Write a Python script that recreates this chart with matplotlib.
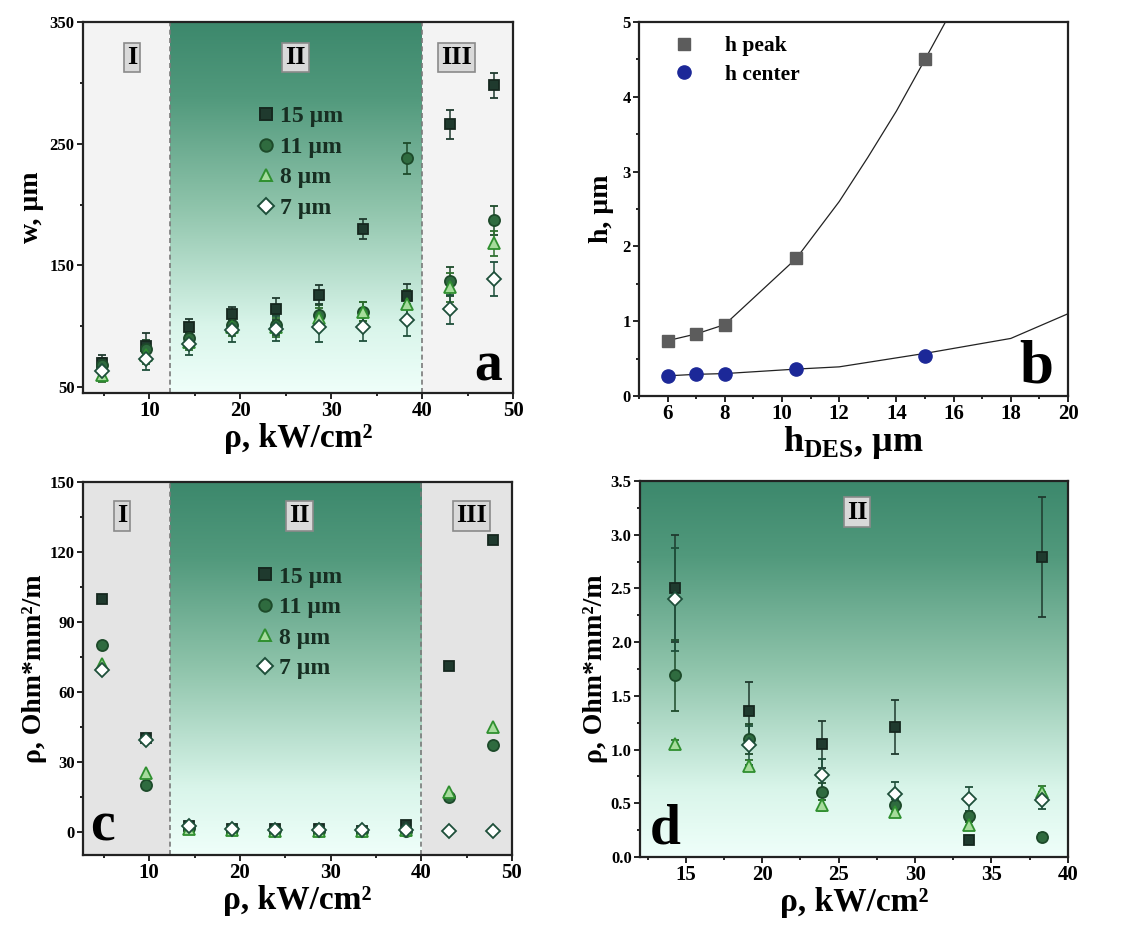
import numpy as np
import matplotlib
matplotlib.use('Agg')
import matplotlib.pyplot as plt
from matplotlib.colors import LinearSegmentedColormap
from matplotlib.lines import Line2D
from matplotlib.ticker import MultipleLocator, FixedLocator

plt.rcParams['font.family'] = ['Liberation Serif', 'DejaVu Serif']
plt.rcParams['font.weight'] = 'bold'
plt.rcParams['axes.labelweight'] = 'bold'
plt.rcParams['mathtext.fontset'] = 'custom'
plt.rcParams['mathtext.rm'] = 'Liberation Serif:bold'
plt.rcParams['mathtext.bf'] = 'Liberation Serif:bold'

# ---- data ----
p = [4.8, 9.6, 14.4, 19.1, 23.9, 28.7, 33.5, 38.3, 43.1, 47.9]
labels = ['15 µm', '11 µm', '8 µm', '7 µm']

# panel a: width w, um
w15 = [70, 84, 99, 110, 114, 126, 180, 125, 266, 298]
w11 = [68, 81, 90, 101, 101, 109, 112, 238, 137, 187]
w8 = [60, 76, 87, 99, 99, 107, 112, 118, 132, 168]
w7 = [63, 73, 85, 97, 98, 99, 99, 105, 114, 139]
w15_err = [6, 10, 7, 6, 9, 8, 8, 10, 12, 10]
w11_err = [6, 8, 7, 7, 8, 8, 8, 13, 12, 12]
w8_err = [6, 7, 7, 7, 8, 8, 8, 12, 12, 10]
w7_err = [8, 9, 9, 10, 10, 12, 11, 13, 12, 14]

# panel b
h_des = [6, 7, 8, 10.5, 15]
h_peak = [0.74, 0.83, 0.955, 1.84, 4.5]
h_center = [0.27, 0.29, 0.30, 0.36, 0.53]
peak_curve_x = [6, 7, 8, 10.5, 12, 13, 14, 15, 16, 18, 20]
peak_curve_y = [0.74, 0.83, 0.955, 1.84, 2.6, 3.19, 3.81, 4.5, 5.2, 6.6, 8.0]
center_curve_x = [6, 7, 8, 10.5, 12, 15, 18, 20]
center_curve_y = [0.27, 0.29, 0.30, 0.36, 0.39, 0.57, 0.77, 1.1]

# panel c: resistivity, Ohm*mm2/m
r15 = [100, 40, 2.5, 1.36, 1.05, 1.21, 0.16, 2.79, 71, 125]
r11 = [80, 20, 1.69, 1.10, 0.61, 0.48, 0.38, 0.19, 15, 37]
r8 = [72, 25, 1.05, 0.85, 0.48, 0.42, 0.30, 0.61, 17, 45]
r7 = [69.5, 39.5, 2.40, 1.04, 0.76, 0.59, 0.54, 0.53, 0.3, 0.3]

# panel d: region II zoom with errors
pd_ = [14.3, 19.1, 23.9, 28.7, 33.5, 38.3]
d15 = [2.50, 1.36, 1.05, 1.21, 0.16, 2.79]
d11 = [1.69, 1.10, 0.61, 0.48, 0.38, 0.19]
d8 = [1.05, 0.85, 0.48, 0.42, 0.30, 0.61]
d7 = [2.40, 1.04, 0.76, 0.59, 0.54, 0.53]
d15_err = [0.50, 0.27, 0.22, 0.25, 0.03, 0.56]
d11_err = [0.33, 0.14, 0.08, 0.06, 0.05, 0.03]
d8_err = [0.04, 0.05, 0.05, 0.04, 0.04, 0.05]
d7_err = [0.48, 0.18, 0.15, 0.11, 0.11, 0.08]

# ---- styles ----
styles = [
    dict(marker='s', mfc='#1f3a2e', mec='#16281f', color='#1f3a2e'),
    dict(marker='o', mfc='#2f6b3f', mec='#1d4a2a', color='#1d4a2a'),
    dict(marker='^', mfc='#a6dc9c', mec='#2f8f2f', color='#2f6f2f'),
    dict(marker='D', mfc='white', mec='#1e4f3a', color='#1e4f3a'),
]
msizes = [7.5, 8, 8, 7]

cmap = LinearSegmentedColormap.from_list(
    'reg2', [(0.0, '#effffa'), (0.18, '#d9f5ea'), (0.5, '#8fc4ab'),
             (0.8, '#51997c'), (1.0, '#3c886c')])
grad = np.linspace(0, 1, 256).reshape(-1, 1)

fig = plt.figure(figsize=(11.26, 9.34), dpi=100)
ax_a = fig.add_axes([0.0737, 0.5792, 0.382, 0.397])
ax_b = fig.add_axes([0.5675, 0.5760, 0.381, 0.4004])
ax_c = fig.add_axes([0.0737, 0.0846, 0.381, 0.3993])
ax_d = fig.add_axes([0.5684, 0.0824, 0.380, 0.4026])

box = dict(boxstyle='square,pad=0.12', fc='#d9d9d9', ec='#8a8a8a', lw=1.2)


def style_axes(ax):
    for s in ax.spines.values():
        s.set_linewidth(1.6)
        s.set_color('#222222')
    ax.tick_params(which='both', direction='out', top=False, right=False,
                   width=1.2)
    ax.tick_params(axis='x', labelsize=15, pad=2)
    ax.tick_params(axis='y', labelsize=12, pad=2)
    ax.tick_params(which='major', length=4)
    ax.tick_params(which='minor', length=2.5)


def regions(ax, ylo, yhi, side_color):
    ax.axvspan(2.7, 12.3, color=side_color, zorder=0, lw=0)
    ax.axvspan(40, 50, color=side_color, zorder=0, lw=0)
    ax.imshow(grad, cmap=cmap, origin='lower', aspect='auto',
              extent=[12.3, 40, ylo, yhi], zorder=0.5)
    for xv in (12.3, 40):
        ax.axvline(xv, color='#7a7a7a', ls=(0, (3, 2)), lw=1.2, zorder=1)


def series_legend(ax, anchor):
    hs = [Line2D([], [], ls='none', marker=st['marker'], mfc=st['mfc'],
                 mec=st['mec'], ms=ms + 1, mew=1.4)
          for st, ms in zip(styles, msizes)]
    leg = ax.legend(hs, labels, loc='upper left', bbox_to_anchor=anchor,
                    frameon=False, fontsize=17, handletextpad=0.0,
                    labelspacing=0.38, handlelength=1.2, borderaxespad=0)
    for t in leg.get_texts():
        t.set_color('#172e22')


# ---- panel a ----
ax = ax_a
regions(ax, 45, 350, '#f3f3f3')
for ys, es, st, ms in zip([w15, w11, w8, w7], [w15_err, w11_err, w8_err, w7_err],
                          styles, msizes):
    ax.errorbar(p, ys, yerr=es, ls='none', marker=st['marker'], mfc=st['mfc'],
                mec=st['mec'], ecolor=st['color'], ms=ms, mew=1.3,
                capsize=3, elinewidth=1.1, capthick=1.1, zorder=3)
ax.set_xlim(2.7, 50)
ax.set_ylim(45, 350)
ax.xaxis.set_major_locator(MultipleLocator(10))
ax.xaxis.set_minor_locator(MultipleLocator(5))
ax.yaxis.set_major_locator(FixedLocator([50, 150, 250, 350]))
ax.yaxis.set_minor_locator(FixedLocator([100, 200, 300]))
ax.set_ylabel('w, µm', fontsize=20, labelpad=4)
ax.set_xlabel('ρ, kW/cm²', fontsize=24, labelpad=1)
ax.text(8.1, 321, 'I', fontsize=19, ha='center', va='center', bbox=box, zorder=5)
ax.text(26.1, 321, 'II', fontsize=19, ha='center', va='center', bbox=box, zorder=5)
ax.text(43.8, 321, 'III', fontsize=19, ha='center', va='center', bbox=box, zorder=5)
ax.text(0.975, 0.035, 'a', transform=ax.transAxes, fontsize=40,
        ha='right', va='baseline', zorder=5)
series_legend(ax, (0.37, 0.80))
style_axes(ax)

# ---- panel b ----
ax = ax_b
ax.plot(peak_curve_x, peak_curve_y, color='#222222', lw=0.9, zorder=2)
ax.plot(center_curve_x, center_curve_y, color='#222222', lw=0.9, zorder=2)
ax.plot(h_des, h_peak, ls='none', marker='s', color='#5c5c5c', ms=9,
        label='h peak', zorder=3)
ax.plot(h_des, h_center, ls='none', marker='o', color='#1c2898', ms=9.5,
        label='h center', zorder=3)
ax.set_xlim(5, 20)
ax.set_ylim(0, 5)
ax.xaxis.set_major_locator(MultipleLocator(2))
ax.xaxis.set_minor_locator(MultipleLocator(1))
ax.yaxis.set_major_locator(MultipleLocator(1))
ax.yaxis.set_minor_locator(MultipleLocator(0.5))
ax.set_ylabel('h, µm', fontsize=20, labelpad=6)
ax.set_xlabel('h$_{\\mathrm{DES}}$, µm', fontsize=26, labelpad=0)
ax.legend(loc='upper left', bbox_to_anchor=(0.035, 0.985), frameon=False,
          fontsize=15.5, handletextpad=0.9, labelspacing=0.4, borderaxespad=0)
ax.text(0.965, 0.035, 'b', transform=ax.transAxes, fontsize=44,
        ha='right', va='baseline')
style_axes(ax)

# ---- panel c ----
ax = ax_c
regions(ax, -10, 150, '#e4e4e4')
for ys, st, ms in zip([r15, r11, r8, r7], styles, msizes):
    ax.plot(p, ys, ls='none', marker=st['marker'], mfc=st['mfc'],
            mec=st['mec'], ms=ms, mew=1.3, zorder=3)
ax.set_xlim(2.7, 50)
ax.set_ylim(-10, 150)
ax.xaxis.set_major_locator(MultipleLocator(10))
ax.xaxis.set_minor_locator(MultipleLocator(5))
ax.yaxis.set_major_locator(MultipleLocator(30))
ax.yaxis.set_minor_locator(MultipleLocator(15))
ax.set_ylabel('ρ, Ohm*mm²/m', fontsize=20, labelpad=2)
ax.set_xlabel('ρ, kW/cm²', fontsize=24, labelpad=1)
ax.text(7.0, 135.5, 'I', fontsize=19, ha='center', va='center', bbox=box, zorder=5)
ax.text(26.6, 135.5, 'II', fontsize=19, ha='center', va='center', bbox=box, zorder=5)
ax.text(45.5, 135.5, 'III', fontsize=19, ha='center', va='center', bbox=box, zorder=5)
ax.text(0.016, 0.04, 'c', transform=ax.transAxes, fontsize=40,
        ha='left', va='baseline', zorder=5)
series_legend(ax, (0.37, 0.80))
style_axes(ax)

# ---- panel d ----
ax = ax_d
ax.imshow(grad, cmap=cmap, origin='lower', aspect='auto',
          extent=[12, 40, 0, 3.5], zorder=0)
for ys, es, st, ms in zip([d15, d11, d8, d7], [d15_err, d11_err, d8_err, d7_err],
                          styles, msizes):
    ax.errorbar(pd_, ys, yerr=es, ls='none', marker=st['marker'], mfc=st['mfc'],
                mec=st['mec'], ecolor=st['color'], ms=ms, mew=1.3,
                capsize=3, elinewidth=1.1, capthick=1.1, zorder=3)
ax.set_xlim(12, 40)
ax.set_ylim(0, 3.5)
ax.xaxis.set_major_locator(MultipleLocator(5))
ax.xaxis.set_minor_locator(MultipleLocator(2.5))
ax.yaxis.set_major_locator(MultipleLocator(0.5))
ax.yaxis.set_minor_locator(MultipleLocator(0.25))
ax.yaxis.set_major_formatter(plt.FormatStrFormatter('%.1f'))
ax.set_ylabel('ρ, Ohm*mm²/m', fontsize=20, labelpad=2)
ax.set_xlabel('ρ, kW/cm²', fontsize=24, labelpad=1)
ax.text(26.2, 3.21, 'II', fontsize=19, ha='center', va='center', bbox=box, zorder=5)
ax.text(0.023, 0.037, 'd', transform=ax.transAxes, fontsize=40,
        ha='left', va='baseline', zorder=5)
style_axes(ax)

fig.savefig('out.png', dpi=100)
